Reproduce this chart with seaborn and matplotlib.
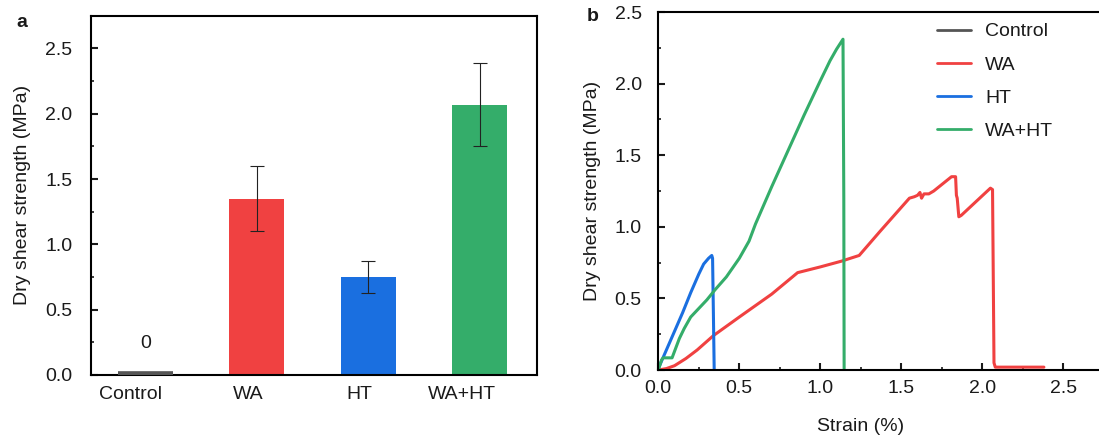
import numpy as np
import pandas as pd
import matplotlib
matplotlib.use("Agg")
import matplotlib.pyplot as plt
import matplotlib.transforms as mtransforms
from matplotlib.ticker import MultipleLocator, FormatStrFormatter
import seaborn as sns

# ---- panel a: dry shear strength per treatment ----
groups = ["Control", "WA", "HT", "WA+HT"]
strength = [0.0, 1.35, 0.75, 2.07]
strength_sd = [0.0, 0.25, 0.12, 0.32]
group_colors = ["#555555", "#F04141", "#1A6FE0", "#34AD6A"]

# ---- panel b: stress-strain curves ----
control_strain = [0.0, 0.02]
control_stress = [0.0, 0.0]

wa_strain = [0.0, 0.05, 0.10, 0.17, 0.24, 0.34, 0.50, 0.70, 0.86, 1.00, 1.13,
             1.24, 1.37, 1.55, 1.58, 1.60, 1.615, 1.625, 1.64, 1.67, 1.70,
             1.81, 1.835, 1.84, 1.845, 1.855, 1.87, 2.05, 2.063, 2.072, 2.08, 2.38]
wa_stress = [0.0, 0.01, 0.03, 0.08, 0.14, 0.24, 0.37, 0.53, 0.68, 0.72, 0.76,
             0.80, 0.97, 1.20, 1.21, 1.22, 1.24, 1.20, 1.23, 1.23, 1.25,
             1.35, 1.35, 1.22, 1.20, 1.07, 1.08, 1.27, 1.26, 0.05, 0.02, 0.02]

ht_strain = [0.0, 0.05, 0.10, 0.15, 0.20, 0.25, 0.28, 0.31, 0.33, 0.335, 0.34, 0.345]
ht_stress = [0.01, 0.14, 0.27, 0.40, 0.54, 0.67, 0.74, 0.78, 0.80, 0.78, 0.40, 0.0]

wht_strain = [0.0, 0.02, 0.03, 0.085, 0.10, 0.13, 0.16, 0.20, 0.25, 0.30, 0.35,
              0.42, 0.50, 0.56, 0.60, 0.70, 0.80, 0.90, 1.00, 1.06, 1.10, 1.14,
              1.145, 1.147]
wht_stress = [0.0, 0.07, 0.085, 0.085, 0.13, 0.22, 0.29, 0.37, 0.43, 0.49, 0.56,
              0.65, 0.78, 0.90, 1.02, 1.28, 1.53, 1.78, 2.02, 2.16, 2.24, 2.31,
              1.20, 0.01]

# horizontal nudges (points) applied to the category tick labels
label_shift = [-11, -6.5, -6.5, -13]

sns.set_theme(style="ticks")
plt.rcParams["font.family"] = ["Liberation Sans", "DejaVu Sans"]
plt.rcParams["axes.linewidth"] = 1.5
text_color = "#1a1a1a"
plt.rcParams["text.color"] = text_color
plt.rcParams["xtick.color"] = text_color
plt.rcParams["ytick.color"] = text_color
plt.rcParams["axes.labelcolor"] = text_color

fig = plt.figure(figsize=(10.99, 4.37), dpi=100)
ax_a = fig.add_axes([0.0825, 0.1419, 0.4058, 0.8222])
ax_b = fig.add_axes([0.599, 0.1533, 0.4054, 0.8192])

FS = 14

# ---------------- panel a ----------------
bar_df = pd.DataFrame({"group": groups, "strength": strength})
sns.barplot(data=bar_df, x="group", y="strength", hue="group",
            palette=group_colors, width=0.49, errorbar=None, legend=False,
            saturation=1, edgecolor="none", ax=ax_a)

# zero-height control bar drawn as a thick rule over its footprint
ctrl = ax_a.patches[0]
ax_a.plot([ctrl.get_x(), ctrl.get_x() + ctrl.get_width()],
          [strength[0], strength[0]], color=group_colors[0], lw=5.5,
          solid_capstyle="butt", zorder=3)
ax_a.annotate(f"{strength[0]:g}", (0, strength[0]), xytext=(0, 16.5),
              textcoords="offset points", ha="center", va="bottom", fontsize=FS)

pos = np.arange(1, len(groups))
ax_a.errorbar(pos, strength[1:], yerr=strength_sd[1:], fmt="none",
              ecolor="#222222", elinewidth=0.8, capsize=5, capthick=0.8, zorder=4)

ax_a.set_xlim(-0.49, 3.51)
ax_a.set_ylim(0, 2.75)
ax_a.yaxis.set_major_locator(MultipleLocator(0.5))
ax_a.yaxis.set_minor_locator(MultipleLocator(0.25))
ax_a.yaxis.set_major_formatter(FormatStrFormatter("%.1f"))
ax_a.tick_params(axis="y", which="major", direction="in", length=5, width=1.5,
                 pad=13, labelsize=FS)
ax_a.tick_params(axis="y", which="minor", direction="in", length=2.5, width=1.2)
ax_a.tick_params(axis="x", which="both", length=0, pad=8, labelsize=FS)
ax_a.set_xlabel("")
ax_a.set_ylabel("Dry shear strength (MPa)", fontsize=FS)
ax_a.yaxis.set_label_coords(-0.134, 0.5)
for lbl, dx in zip(ax_a.get_xticklabels(), label_shift):
    lbl.set_transform(lbl.get_transform() +
                      mtransforms.ScaledTranslation(dx / 72, 0, fig.dpi_scale_trans))
for side in ["top", "right", "left", "bottom"]:
    ax_a.spines[side].set_visible(True)
    ax_a.spines[side].set_color("black")
fig.text(16 / 1099, 1 - 27 / 437, "a", fontsize=FS, fontweight="bold")

# ---------------- panel b ----------------
curves = [("Control", control_strain, control_stress),
          ("WA", wa_strain, wa_stress),
          ("HT", ht_strain, ht_stress),
          ("WA+HT", wht_strain, wht_stress)]
line_df = pd.concat([pd.DataFrame({"strain": s, "stress": t, "sample": n})
                     for n, s, t in curves], ignore_index=True)
sns.lineplot(data=line_df, x="strain", y="stress", hue="sample",
             palette=dict(zip(groups, group_colors)), hue_order=groups,
             sort=False, estimator=None, lw=2.2, ax=ax_b)

ax_b.set_xlim(0, 2.75)
ax_b.set_ylim(0, 2.5)
ax_b.xaxis.set_major_locator(MultipleLocator(0.5))
ax_b.xaxis.set_minor_locator(MultipleLocator(0.25))
ax_b.yaxis.set_major_locator(MultipleLocator(0.5))
ax_b.yaxis.set_minor_locator(MultipleLocator(0.25))
ax_b.xaxis.set_major_formatter(FormatStrFormatter("%.1f"))
ax_b.yaxis.set_major_formatter(FormatStrFormatter("%.1f"))
ax_b.tick_params(which="major", direction="in", length=5, width=1.5, labelsize=FS)
ax_b.tick_params(which="minor", direction="in", length=2.5, width=1.2)
ax_b.tick_params(axis="y", which="major", pad=12)
ax_b.tick_params(axis="x", which="major", pad=7)
ax_b.set_xlabel("Strain (%)", fontsize=FS)
ax_b.xaxis.set_label_coords(0.455, -0.135)
ax_b.set_ylabel("Dry shear strength (MPa)", fontsize=FS)
ax_b.yaxis.set_label_coords(-0.129, 0.5)
for side in ["top", "right", "left", "bottom"]:
    ax_b.spines[side].set_visible(True)
    ax_b.spines[side].set_color("black")

leg = ax_b.legend(frameon=False, loc="upper left", bbox_to_anchor=(0.625, 0.97),
                  borderpad=0, borderaxespad=0, fontsize=FS, handlelength=1.75,
                  handletextpad=0.75, labelspacing=0.8)
for h in leg.get_lines():
    h.set_linewidth(2.0)
fig.text(587 / 1099, 1 - 21 / 437, "b", fontsize=FS, fontweight="bold")

fig.savefig("out.png", dpi=100)
